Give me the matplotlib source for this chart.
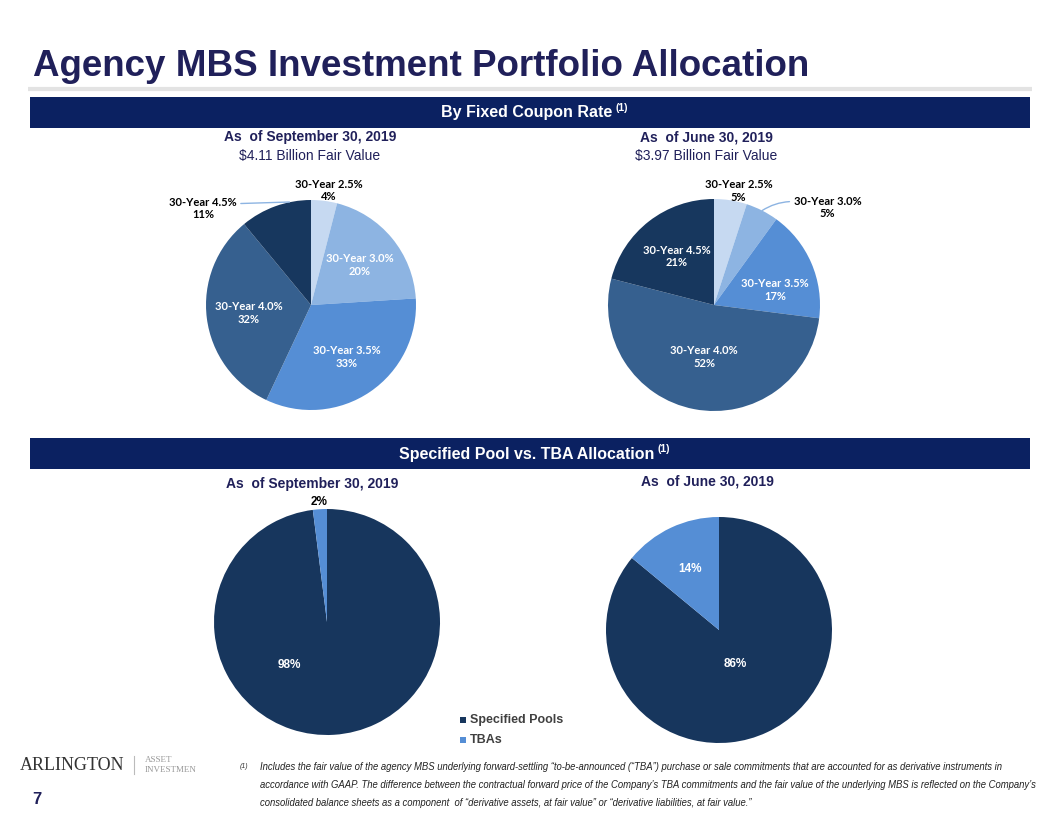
import numpy as np
import matplotlib
matplotlib.use('Agg')
import matplotlib.pyplot as plt
from matplotlib.patches import Rectangle

W, H = 1056, 816

# data
coupon_labels = ['30-Year 2.5%', '30-Year 3.0%', '30-Year 3.5%', '30-Year 4.0%', '30-Year 4.5%']
coupon_sep = [4, 20, 33, 32, 11]
coupon_jun = [5, 5, 17, 52, 21]
pool_labels = ['Specified Pools', 'TBAs']
pool_sep = [98, 2]
pool_jun = [86, 14]

coupon_colors = ['#C6D9F1', '#8DB4E2', '#558ED5', '#36608F', '#17375E']
pool_colors = ['#17365D', '#558ED5']
navy = '#0B2161'
title_col = '#20205A'

plt.rcParams['font.family'] = ['Liberation Sans', 'DejaVu Sans']

fig = plt.figure(figsize=(W / 100, H / 100), dpi=100)
bg = fig.add_axes([0, 0, 1, 1])
bg.set_xlim(0, W)
bg.set_ylim(H, 0)
bg.axis('off')
renderer = fig.canvas.get_renderer()

# title + rule
bg.text(33, 67, 'Agency MBS Investment Portfolio Allocation', fontsize=26.5, fontweight='bold',
        color=title_col, va='center', ha='left')
bg.plot([28, 1032], [89, 89], color='#E3E3E3', lw=3, solid_capstyle='butt')

# section bars
for y0, txt in [(97, 'By Fixed Coupon Rate'), (438, 'Specified Pool vs. TBA Allocation')]:
    bg.add_patch(Rectangle((30, y0), 1000, 31, color=navy, lw=0))
    t = bg.text(527, y0 + 16, txt, color='white', fontsize=11.5, fontweight='bold',
                ha='center', va='center')
    bb = t.get_window_extent(renderer)
    bg.text(bb.x1 + 3, y0 + 11, '(1)', color='white',
            fontsize=7.5, fontweight='bold', ha='left', va='center')

# sub headings
bg.text(310, 137, 'As  of September 30, 2019', fontsize=10, fontweight='bold', color=title_col, ha='center', va='center')
bg.text(310, 156, '$4.11 Billion Fair Value', fontsize=10, color=title_col, ha='center', va='center')
bg.text(706, 137, 'As  of June 30, 2019', fontsize=10, fontweight='bold', color=title_col, ha='center', va='center')
bg.text(706, 156, '$3.97 Billion Fair Value', fontsize=10, color=title_col, ha='center', va='center')
bg.text(312, 484, 'As  of September 30, 2019', fontsize=10, fontweight='bold', color=title_col, ha='center', va='center')
bg.text(707, 481, 'As  of June 30, 2019', fontsize=10, fontweight='bold', color=title_col, ha='center', va='center')


def pie_ax(cx, cy, r):
    ax = fig.add_axes([(cx - r) / W, (H - cy - r) / H, 2 * r / W, 2 * r / H])
    return ax


def draw_pie(ax, values, colors):
    wedges, _ = ax.pie(values, colors=colors, startangle=90, counterclock=False, radius=1,
                       wedgeprops=dict(linewidth=0))
    ax.set_xlim(-1, 1)
    ax.set_ylim(-1, 1)
    ax.axis('off')
    return wedges


def mid(w):
    return np.deg2rad((w.theta1 + w.theta2) / 2)


lab_font = dict(fontsize=8, fontweight='bold', family=['Lato', 'DejaVu Sans'], ha='center', va='center')

# top left pie
ax1 = pie_ax(311, 305, 105)
w1 = draw_pie(ax1, coupon_sep, coupon_colors)
for i, (w, v) in enumerate(zip(w1, coupon_sep)):
    a = mid(w)
    s = f'{coupon_labels[i]}\n{v}%'
    if i == 0:
        ax1.text(1.1 * np.cos(a) + 0.03, 1.1 * np.sin(a), s, color='black', **lab_font)
    elif i == 4:
        ax1.annotate(s, xy=(0.9 * np.cos(a) + 0.1, np.sin(a) + 0.04), xytext=(-1.03, 0.92), color='black',
                     arrowprops=dict(arrowstyle='-', color='#8DB4E2', lw=1, relpos=(1, 0.7),
                                     shrinkA=1, shrinkB=0), **lab_font)
    else:
        ax1.text(0.6 * np.cos(a), 0.6 * np.sin(a), s, color='white', **lab_font)

# top right pie
ax2 = pie_ax(714, 305, 106)
w2 = draw_pie(ax2, coupon_jun, coupon_colors)
rad2 = [1.08, None, 0.66, 0.5, 0.58]
for i, (w, v) in enumerate(zip(w2, coupon_jun)):
    a = mid(w)
    s = f'{coupon_labels[i]}\n{v}%'
    if i == 0:
        ax2.text(1.09 * np.cos(a) + 0.06, 1.09 * np.sin(a), s, color='black', **lab_font)
    elif i == 1:
        ax2.annotate(s, xy=(np.cos(a), np.sin(a)), xytext=(1.07, 0.92), color='black',
                     arrowprops=dict(arrowstyle='-', color='#8DB4E2', lw=1, relpos=(0, 0.75),
                                     shrinkA=1, shrinkB=0,
                                     connectionstyle='arc3,rad=0.15'), **lab_font)
    else:
        r = rad2[i]
        ax2.text(r * np.cos(a) - (0.03 if i == 2 else 0), r * np.sin(a) - (0.12 if i == 2 else 0),
                 s, color='white', **lab_font)

pct_font = dict(fontsize=8.5, fontweight='bold', ha='center', va='center')

# bottom left pie
ax3 = pie_ax(327, 622, 113)
w3 = draw_pie(ax3, pool_sep, pool_colors)
ax3.text(-0.33, -0.38, f'{pool_sep[0]}%', color='white', **pct_font)
a = mid(w3[1])
ax3.text(1.06 * np.cos(a), 1.06 * np.sin(a), f'{pool_sep[1]}%', color='black', **pct_font)

# bottom right pie
ax4 = pie_ax(719, 630, 113)
w4 = draw_pie(ax4, pool_jun, pool_colors)
for w, v, r in zip(w4, pool_jun, [0.33, 0.6]):
    a = mid(w)
    ax4.text(r * np.cos(a), r * np.sin(a), f'{v}%', color='white', **pct_font)

# legend
for k, (lab, c) in enumerate(zip(pool_labels, pool_colors)):
    y = 720 + 20 * k
    bg.add_patch(Rectangle((460, y - 3.5), 6, 6, color=c, lw=0))
    bg.text(470, y, lab, fontsize=9, fontweight='bold', color='#404040', va='center', ha='left')

# footer
bg.text(20, 765, 'ARLINGTON', fontsize=13, family=['Liberation Serif', 'DejaVu Serif'], color='#333333',
        va='center', ha='left')
bg.plot([134, 134], [756, 774], color='#BBBBBB', lw=0.8)
bg.text(145, 760, 'ASSET', fontsize=6.5, family=['Liberation Serif', 'DejaVu Serif'], color='#999999', va='center')
bg.text(145, 770, 'INVESTMEN', fontsize=6.5, family=['Liberation Serif', 'DejaVu Serif'], color='#999999', va='center')
bg.text(37, 800, '7', fontsize=12, fontweight='bold', color=title_col, ha='center', va='center')

bg.text(240, 767, '(1)', fontsize=5, color='#333333', style='italic', va='center')
foot = [
    'Includes the fair value of the agency MBS underlying forward-settling \u201cto-be-announced (\u201cTBA\u201d) purchase or sale commitments that are accounted for as derivative instruments in',
    'accordance with GAAP. The difference between the contractual forward price of the Company\u2019s TBA commitments and the fair value of the underlying MBS is reflected on the Company\u2019s',
    'consolidated balance sheets as a component  of \u201cderivative assets, at fair value\u201d or \u201cderivative liabilities, at fair value.\u201d',
]
for k, line in enumerate(foot):
    bg.text(260, 767 + 18 * k, line, fontsize=6.85, style='italic', color='#222222', va='center', ha='left')

fig.savefig('out.png', dpi=100)
